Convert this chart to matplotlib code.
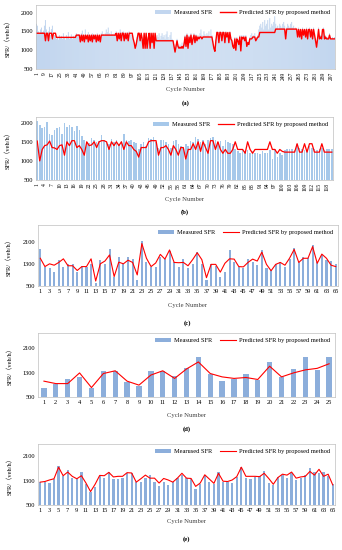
import numpy as np
import matplotlib
matplotlib.use('Agg')
import matplotlib.pyplot as plt

plt.rcParams['font.family'] = ['Liberation Serif', 'Noto Sans CJK SC']

# ---- panel (a): 300 cycles
a_measured = [
    1700, 1650, 1500, 1450, 1550, 1600, 1480, 1520, 1650, 1800, 1550, 1450, 1500, 1620, 1400, 1560, 1650, 1300, 1400, 1380,
    1300, 1350, 1280, 1400, 1320, 1380, 1300, 1450, 1350, 1280, 1400, 1320, 1480, 1300, 1350, 1420, 1300, 1380, 1320, 1400,
    1450, 1380, 1420, 1350, 1300, 1450, 1520, 1280, 1400, 1550, 1350, 1300, 1480, 1400, 1280, 1350, 1450, 1300, 1420, 1380,
    1300, 1450, 1350, 1400, 1280, 1450, 1500, 1420, 1380, 1450, 1550, 1480, 1600, 1450, 1400, 1500, 1420, 1380, 1450, 1400,
    1500, 1350, 1450, 1400, 1550, 1300, 1480, 1500, 1350, 1450, 1400, 1480, 1300, 1500, 1450, 1400, 1350, 1250, 1150, 1100,
    1200, 1350, 1450, 1400, 1300, 1450, 1350, 1150, 1400, 1100, 1450, 1150, 1350, 1400, 1100, 1450, 1250, 1400, 1150, 1400,
    1300, 1400, 1350, 1450, 1300, 1380, 1450, 1350, 1400, 1300, 1420, 1500, 1350, 1280, 1400, 1480, 1300, 1250, 1150, 1000,
    1150, 1300, 1150, 1100, 1150, 1100, 1200, 1100, 1200, 1400, 1150, 1450, 1100, 1400, 1250, 1450, 1200, 1350, 1450, 1250,
    1420, 1300, 1400, 1350, 1450, 1550, 1400, 1350, 1500, 1420, 1380, 1450, 1400, 1500, 1350, 1550, 1400, 1250, 1100, 1000,
    1300, 1500, 1450, 1250, 1500, 1450, 1300, 1500, 1450, 1250, 1500, 1400, 1450, 1250, 1500, 1350, 1300, 1150, 1100, 1350,
    1050, 1350, 1300, 1200, 1400, 1050, 1400, 1350, 1400, 1300, 1400, 1150, 1250, 1200, 1350, 1400, 1450, 1350, 1400, 1450,
    1300, 1350, 1400, 1550, 1650, 1700, 1600, 1750, 1550, 1800, 1650, 1700, 1800, 1550, 1850, 1600, 1700, 1650, 1750, 1900,
    1700, 1600, 1650, 1550, 1700, 1650, 1600, 1700, 1750, 1650, 1400, 1600, 1700, 1650, 1600, 1700, 1750, 1600, 1650, 1550,
    1600, 1550, 1400, 1600, 1400, 1550, 1350, 1600, 1450, 1550, 1400, 1600, 1350, 1550, 1600, 1400, 1550, 1350, 1600, 1450,
    1300, 1150, 1350, 1600, 1350, 1400, 1350, 1550, 1600, 1350, 1400, 1350, 1350, 1300, 1450, 1350, 1300, 1350, 1300, 1350,
]
a_predicted = [
    1450, 1450, 1450, 1450, 1450, 1450, 1450, 1450, 1450, 1250, 1450, 1450, 1250, 1450, 1450, 1450, 1300, 1450, 1450, 1450,
    1340, 1340, 1340, 1340, 1340, 1340, 1340, 1340, 1340, 1340, 1340, 1340, 1340, 1340, 1340, 1340, 1340, 1340, 1340, 1340,
    1400, 1400, 1400, 1400, 1220, 1400, 1250, 1400, 1220, 1400, 1300, 1400, 1220, 1400, 1250, 1400, 1220, 1400, 1300, 1400,
    1220, 1400, 1250, 1400, 1220, 1400, 1400, 1400, 1400, 1400, 1400, 1400, 1400, 1400, 1400, 1400, 1400, 1400, 1400, 1400,
    1450, 1250, 1450, 1300, 1450, 1250, 1450, 1450, 1250, 1450, 1300, 1450, 1250, 1450, 1450, 1450, 1450, 1300, 1200, 1050,
    1150, 1300, 1450, 1450, 1250, 1450, 1300, 1050, 1450, 1050, 1450, 1050, 1300, 1450, 1050, 1450, 1200, 1450, 1050, 1450,
    1250, 1250, 1250, 1250, 1250, 1250, 1250, 1250, 1250, 1250, 1250, 1250, 1250, 1250, 1250, 1250, 1250, 1250, 1100, 950,
    1100, 1250, 1100, 1050, 1080, 1050, 1100, 1050, 1150, 1350, 1100, 1400, 1050, 1350, 1200, 1400, 1150, 1300, 1400, 1200,
    1380, 1250, 1350, 1300, 1350, 1350, 1300, 1350, 1350, 1350, 1350, 1350, 1350, 1350, 1350, 1350, 1350, 1200, 1050, 970,
    1250, 1470, 1470, 1200, 1470, 1470, 1250, 1470, 1470, 1200, 1470, 1350, 1470, 1200, 1470, 1300, 1250, 1100, 1050, 1300,
    1000, 1300, 1250, 1150, 1350, 980, 1350, 1300, 1350, 1250, 1350, 1100, 1200, 1150, 1300, 1300, 1300, 1350, 1350, 1350,
    1250, 1300, 1350, 1350, 1470, 1470, 1470, 1470, 1470, 1470, 1470, 1470, 1470, 1470, 1470, 1470, 1470, 1470, 1470, 1470,
    1560, 1560, 1560, 1560, 1560, 1560, 1560, 1560, 1560, 1560, 1300, 1560, 1560, 1560, 1560, 1560, 1560, 1560, 1560, 1560,
    1560, 1560, 1350, 1550, 1350, 1550, 1300, 1550, 1400, 1550, 1350, 1550, 1300, 1550, 1550, 1350, 1550, 1300, 1550, 1400,
    1250, 1080, 1300, 1550, 1300, 1350, 1300, 1550, 1550, 1300, 1350, 1300, 1300, 1300, 1400, 1300, 1300, 1300, 1300, 1300,
]

# ---- panel (b): 120 cycles
b_measured = [
    2050, 1950, 1850, 1900, 2020, 1700, 1690, 1800, 1850, 1900, 1700, 2000, 1880, 1950, 1900, 1780, 1920, 1800, 1650, 1550,
    1500, 1480, 1600, 1550, 1500, 1520, 1680, 1550, 1500, 1450, 1580, 1500, 1550, 1450, 1520, 1700, 1550, 1530, 1560, 1500,
    1480, 1300, 1450, 1500, 1400, 1600, 1580, 1620, 1500, 1350, 1550, 1560, 1500, 1450, 1350, 1530, 1560, 1450, 1400, 1350,
    1450, 1400, 1530, 1500, 1620, 1580, 1500, 1560, 1450, 1550, 1600, 1620, 1550, 1500, 1520, 1400, 1550, 1500, 1480, 1450,
    1300, 1250, 1200, 1300, 1250, 1280, 1200, 1250, 1200, 1220, 1180, 1250, 1200, 1220, 1280, 1050, 1300, 1100, 1200, 1150,
    1280, 1300, 1320, 1300, 1280, 1450, 1350, 1300, 1280, 1250, 1400, 1350, 1300, 1280, 1300, 1350, 1280, 1300, 1320, 1300,
]
b_predicted = [
    1520, 1000, 1300, 1400, 1420, 1520, 1350, 1340, 1300, 1400, 1420, 1150, 1500, 1400, 1530, 1530, 1350, 1400, 1300, 1150,
    1500, 1400, 1420, 1500, 1350, 1500, 1530, 1530, 1500, 1300, 1500, 1400, 1500, 1400, 1500, 1300, 1500, 1400, 1400, 1300,
    1250, 1100, 1350, 1350, 1350, 1500, 1530, 1530, 1530, 1150, 1350, 1350, 1400, 1300, 1150, 1400, 1300, 1150, 1350, 1350,
    1050, 1300, 1300, 1450, 1300, 1500, 1250, 1500, 1350, 1200, 1530, 1530, 1300, 1500, 1300, 1200, 1300, 1200, 1200, 1300,
    1500, 1300, 1300, 1300, 1200, 1500, 1300, 1200, 1300, 1300, 1300, 1300, 1300, 1300, 1500, 1300, 1300, 1200, 1300, 1250,
    1230, 1230, 1230, 1230, 1230, 1450, 1230, 1230, 1450, 1230, 1450, 1450, 1230, 1230, 1230, 1450, 1230, 1230, 1230, 1230,
]

# ---- panel (c): 65 cycles
c_measured = [
    1850, 1190, 1160, 995, 1430, 1190, 1280, 1280, 1020, 1230, 1190, 1310, 600, 1430, 1280, 1820, 840, 1550, 1280, 1560,
    1480, 700, 2120, 1370, 1190, 1200, 1550, 1460, 1780, 1350, 1200, 1490, 1140, 1290, 1720, 1300, 700, 1280, 1230, 830,
    1000, 1800, 1370, 1200, 1160, 1490, 1370, 1250, 1800, 1140, 1080, 1280, 1350, 1200, 1490, 1880, 1350, 1540, 1510, 1980,
    1370, 1630, 1450, 1400, 1280,
]
c_predicted = [
    1500, 1200, 1300, 1250, 1350, 1480, 1230, 1230, 1060, 1200, 1200, 1480, 680, 1300, 1400, 1620, 840, 1360, 1300, 1430,
    1350, 900, 2030, 1500, 1200, 1330, 1640, 1470, 1800, 1350, 1340, 1350, 1230, 1450, 1700, 1450, 800, 1280, 1280, 1000,
    1320, 1480, 1470, 1200, 1190, 1350, 1470, 1400, 1720, 1280, 1050, 1280, 1350, 1250, 1500, 1820, 1350, 1500, 1500, 1920,
    1320, 1650, 1500, 1250, 1200,
]

# ---- panel (d): 25 cycles
d_measured = [
    810, 940, 1085, 1140, 810, 1360, 1360, 1000, 850, 1350, 1350, 1200, 1460, 1820, 1270, 1030, 1085, 1270, 1050, 1650,
    1160, 1420, 1820, 1400, 1820,
]
d_predicted = [
    1020, 940, 940, 1290, 810, 1270, 1360, 1020, 890, 1220, 1360, 1110, 1420, 1650, 1270, 1160, 1110, 1140, 1075, 1510,
    1160, 1290, 1390, 1440, 1590,
]

# ---- panel (e): 65 cycles
e_measured = [
    1250, 1250, 1230, 1360, 1780, 1450, 1640, 1400, 1350, 1580, 1200, 930, 1100, 1450, 1380, 1580, 1350, 1350, 1380, 1560,
    1540, 1260, 1250, 1400, 1480, 1270, 1120, 1270, 1150, 1250, 1380, 1490, 1400, 1360, 1030, 1180, 1490, 1260, 1180, 1580,
    1250, 1240, 1230, 1430, 1760, 1400, 1350, 1420, 1440, 1620, 1230, 1170, 1430, 1490, 1400, 1560, 1330, 1380, 1470, 1700,
    1570, 1540, 1580, 1450, 1180,
]
e_predicted = [
    1250, 1270, 1320, 1360, 1740, 1460, 1580, 1440, 1360, 1460, 1220, 940, 1180, 1470, 1460, 1570, 1420, 1440, 1440, 1560,
    1550, 1250, 1360, 1480, 1380, 1380, 1220, 1370, 1320, 1250, 1380, 1540, 1380, 1370, 1110, 1220, 1490, 1350, 1210, 1540,
    1280, 1270, 1320, 1430, 1740, 1440, 1440, 1440, 1430, 1540, 1370, 1180, 1400, 1510, 1480, 1580, 1380, 1420, 1440, 1600,
    1480, 1670, 1440, 1510, 1160,
]

panel_letters = ['(a)', '(b)', '(c)', '(d)', '(e)']
measured_names = ['Measured SFR', 'Measured SFR', 'Measured SFR', 'Measured SFR', 'Mearused SFR']
predicted_name = 'Predicted SFR by proposed method'

fig = plt.figure(figsize=(3.42, 5.5), dpi=100)

# axes boxes as (left, top, width, height) in pixels
boxes = [(36, 5, 299, 64), (36, 117, 297, 63), (38, 225, 300, 61), (38, 333, 297, 64), (38, 444, 297, 61)]
ylims = [(500, 2200), (500, 2150), (500, 2700), (500, 2600), (500, 2500)]
yticks = [[500, 1000, 1500, 2000], [500, 1000, 1500, 2000], [500, 1300, 2100], [500, 1300, 2100], [500, 1300, 2100]]
tick_step = [8, 3, 2, 1, 2]
bar_colors = ['#c2d6ef', '#a6c8ea', '#8caedb', '#8caedb', '#8caedb']
bar_widths = [1.0, 0.65, 0.45, 0.45, 0.5]
line_widths = [1.0, 0.9, 0.8, 0.8, 0.8]
xlabel_y = [90, 200, 305, 416, 522]
letter_y = [103, 212, 323, 429, 539]

data = [(a_measured, a_predicted), (b_measured, b_predicted), (c_measured, c_predicted),
        (d_measured, d_predicted), (e_measured, e_predicted)]

W, H = 342.0, 550.0
for k in range(5):
    meas, pred = data[k]
    n = len(meas)
    cyc = np.arange(1, n + 1)
    l, t, w, h = boxes[k]
    ax = fig.add_axes([l / W, 1 - (t + h) / H, w / W, h / H])
    bars = ax.bar(cyc, meas, width=bar_widths[k], color=bar_colors[k], linewidth=0,
                  label=measured_names[k], zorder=1)
    if k == 0:
        for b in bars:
            b.set_snap(False)
    line, = ax.plot(cyc, pred, color='#ff0000', lw=line_widths[k], label=predicted_name, zorder=2)
    ax.set_xlim(0.5, n + 0.5)
    ax.set_ylim(*ylims[k])
    ax.set_yticks(yticks[k])
    ticks = cyc[::tick_step[k]]
    ax.set_xticks(ticks)
    if k < 2:
        ax.set_xticklabels([str(v) for v in ticks], rotation=90, fontsize=4)
    else:
        ax.set_xticklabels([str(v) for v in ticks], fontsize=4.6)
    ax.tick_params(axis='y', labelsize=4.6, length=0, pad=2)
    ax.tick_params(axis='x', length=0, pad=2)
    for s in ax.spines.values():
        s.set_color('#bfbfbf')
        s.set_linewidth(0.5)
    ax.set_ylabel('SFR/（veh/h）', fontsize=4.6, labelpad=2)
    ax.yaxis.set_label_coords(-0.085, 0.5)
    ax.legend([bars, line], [measured_names[k], predicted_name], loc='upper right', ncol=2,
              frameon=False, fontsize=4.6, handlelength=2.6, handleheight=0.5,
              columnspacing=1.2, borderaxespad=0.4, handletextpad=0.4)
    cx = (l + w / 2) / W
    fig.text(cx, 1 - xlabel_y[k] / H, 'Cycle Number', ha='center', va='center', fontsize=4.8, color='#404040')
    fig.text(cx, 1 - letter_y[k] / H, panel_letters[k], ha='center', va='center', fontsize=4.8, fontweight='bold')

fig.savefig('out.png', dpi=100)
